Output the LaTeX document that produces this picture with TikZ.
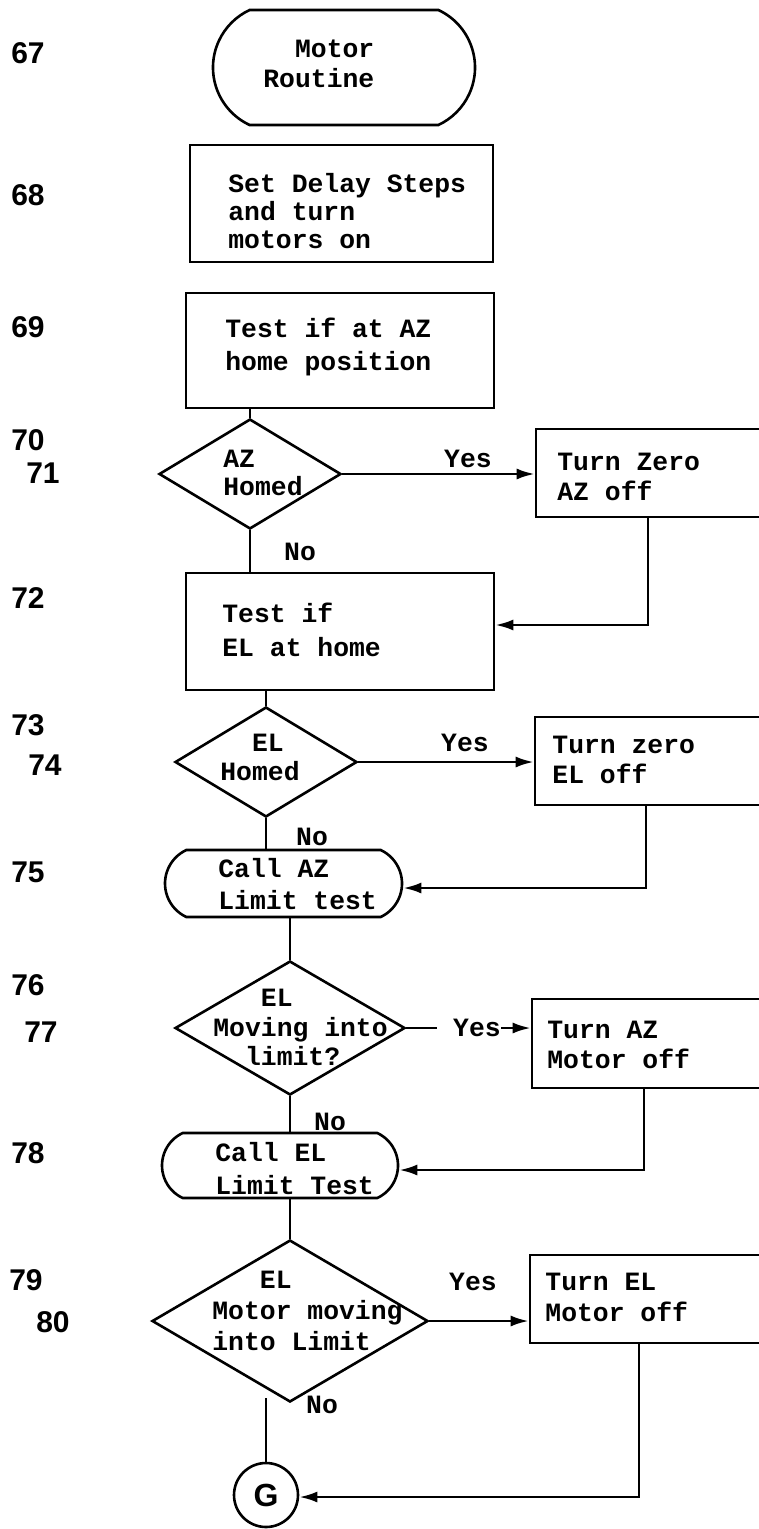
\documentclass[tikz,border=0pt]{standalone}
\usepackage{fontspec}
\newfontfamily\tw{Liberation Mono}
\newfontfamily\lb{Liberation Sans}
\usetikzlibrary{shapes.geometric,shapes.misc,arrows.meta}
\tikzset{
  ln/.style={line width=1.3pt},
  box/.style={draw, line width=1.3pt, rectangle, inner sep=0pt},
  dec/.style={draw, line width=1.3pt, diamond, inner sep=0pt},
  term/.style={draw, line width=1.3pt, rounded rectangle, rounded rectangle arc length=130, inner sep=0pt},
  txt/.style={font=\tw\bfseries\fontsize{13.2}{#1}\selectfont, align=left, anchor=west, inner sep=0pt},
  txt/.default=15,
  yn/.style={font=\tw\bfseries\fontsize{13.2}{15}\selectfont, inner sep=0pt},
  lbl/.style={font=\lb\bfseries\fontsize{15}{18}\selectfont, inner sep=0pt},
  arr/.style={line width=1.3pt, -{Latex[length=9pt,width=5.5pt]}},
}
\begin{document}
\begin{tikzpicture}[x=0.5pt,y=-0.5pt]
\useasboundingbox (0,0) rectangle (759,1529);
\clip (0,0) rectangle (759,1529);
% step numbers
\node[lbl] (n67) at (28,53) {67};
\node[lbl] (n68) at (28,195) {68};
\node[lbl] (n69) at (28,327) {69};
\node[lbl] (n70) at (28,440) {70};
\node[lbl] (n71) at (43,473) {71};
\node[lbl] (n72) at (28,598) {72};
\node[lbl] (n73) at (28,725) {73};
\node[lbl] (n74) at (45,765) {74};
\node[lbl] (n75) at (28,872) {75};
\node[lbl] (n76) at (28,985) {76};
\node[lbl] (n77) at (41,1032) {77};
\node[lbl] (n78) at (28,1153) {78};
\node[lbl] (n79) at (26,1280) {79};
\node[lbl] (n80) at (53,1322) {80};
% shapes
\node[term, minimum width=131pt, minimum height=57.5pt] (t67) at (344,67.5) {};
\node[txt] (x67) at (263,64) {\phantom{Ro}Motor\\Routine};
\node[box, minimum width=151.5pt, minimum height=58.5pt] (b68) at (341.5,203.5) {};
\node[txt=14] (x68) at (228,211) {Set Delay Steps\\and turn\\motors on};
\node[box, minimum width=154pt, minimum height=57.5pt] (b69) at (340,350.5) {};
\node[txt=16.5] (x69) at (225,346.5) {Test if at AZ\\home position};
\node[dec, minimum width=91pt, minimum height=55pt] (d70) at (250,474) {};
\node[txt=14] (x70) at (223,473) {AZ\\Homed};
\node[box, minimum width=132pt, minimum height=44pt] (b71) at (668,473) {};
\node[txt] (x71) at (557,477) {Turn Zero\\AZ off};
\node[box, minimum width=154pt, minimum height=58.5pt] (b72) at (340,631.5) {};
\node[txt=17] (x72) at (222,630) {Test if\\EL at home};
\node[dec, minimum width=91pt, minimum height=55pt] (d73) at (266,762) {};
\node[txt=14.5] (x73) at (220,757.5) {\phantom{Ho}EL\\Homed};
\node[box, minimum width=132.5pt, minimum height=44pt] (b74) at (667.5,761) {};
\node[txt] (x74) at (552,760) {Turn zero\\EL off};
\node[term, minimum width=118.5pt, minimum height=33.5pt] (c75) at (283.5,883.5) {};
\node[txt=16] (x75) at (218,884) {Call AZ\\Limit test};
\node[dec, minimum width=115pt, minimum height=67pt] (d76) at (290,1028) {};
\node[txt=14.75] (x76) at (213,1027.5) {\phantom{Mov}EL\\Moving into\\\phantom{Mo}limit?};
\node[box, minimum width=134pt, minimum height=44.5pt] (b77) at (666,1043.5) {};
\node[txt] (x77) at (547,1045) {Turn AZ\\Motor off};
\node[term, minimum width=118pt, minimum height=32.5pt] (c78) at (280,1165.5) {};
\node[txt=16.5] (x78) at (215,1168.5) {Call EL\\Limit Test};
\node[dec, minimum width=138pt, minimum height=81pt] (d79) at (290,1321) {};
\node[txt=15.5] (x79) at (212,1311) {\phantom{Mot}EL\\Motor moving\\into Limit};
\node[box, minimum width=135pt, minimum height=44pt] (b80) at (665,1299) {};
\node[txt=15.5] (x80) at (545,1297.5) {Turn EL\\Motor off};
\node[circle, draw, ln, minimum size=32pt, inner sep=0pt, font=\lb\bfseries\fontsize{16}{16}\selectfont] (G) at (266,1495) {G};
% yes / no labels
\node[yn] (y70) at (468,459) {Yes};
\node[yn] (o70) at (300,552) {No};
\node[yn] (y73) at (465,743) {Yes};
\node[yn] (o73) at (312,837) {No};
\node[yn] (y77) at (477,1028) {Yes};
\node[yn] (o76) at (330,1122) {No};
\node[yn] (y80) at (473,1282) {Yes};
\node[yn] (o79) at (322,1405) {No};
% corner coordinates
\coordinate (k71) at (648,625);
\coordinate (k74) at (646,888);
\coordinate (k77) at (644,1170);
\coordinate (k80) at (639,1497);
\coordinate (s79) at (266,1398);
% connectors
\draw[ln] (b69.south -| d70.north) -- (d70.north);
\draw[arr] (d70.east) -- (d70.east -| b71.west);
\draw[ln] (d70.south) -- (d70.south |- b72.north);
\draw[arr] (b71.south -| k71) -- (k71) -- (k71 -| b72.east);
\draw[ln] (b72.south -| d73.north) -- (d73.north);
\draw[arr] (d73.east) -- (d73.east -| b74.west);
\draw[ln] (d73.south) -- (d73.south |- c75.north);
\draw[arr] (b74.south -| k74) -- (k74) -- (k74 -| c75.east);
\draw[ln] (c75.south -| d76.north) -- (d76.north);
\draw[ln, shorten >=8pt] (d76.east) -- (y77.west);
\draw[arr] (y77.east) -- (y77.east -| b77.west);
\draw[ln] (d76.south) -- (d76.south |- c78.north);
\draw[arr] (b77.south -| k77) -- (k77) -- (k77 -| c78.east);
\draw[ln] (c78.south -| d79.north) -- (d79.north);
\draw[arr] (d79.east) -- (d79.east -| b80.west);
\draw[ln] (s79) -- (G.north);
\draw[arr] (b80.south -| k80) -- (k80) -- (k80 -| G.east);
\end{tikzpicture}
\end{document}
